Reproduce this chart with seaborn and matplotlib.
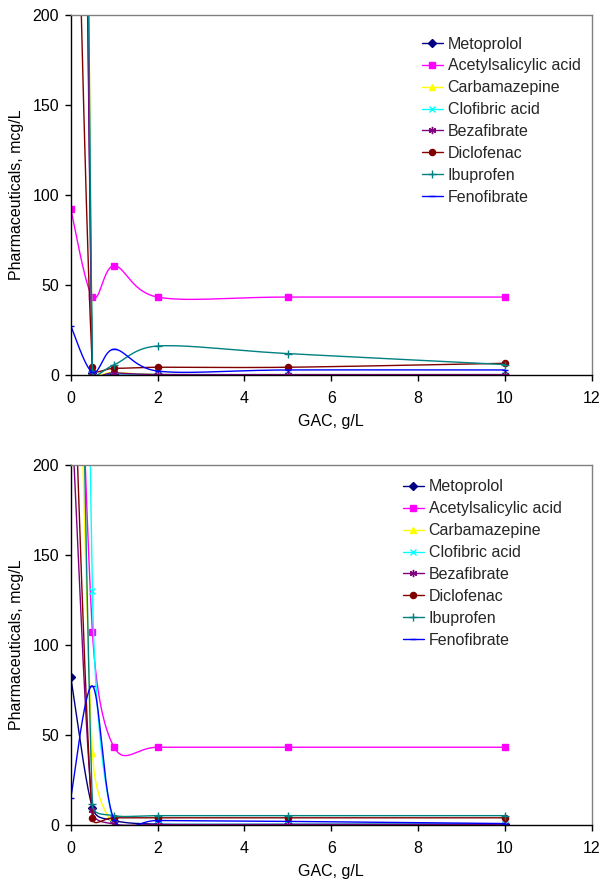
import numpy as np
import matplotlib
matplotlib.use("Agg")
import matplotlib.pyplot as plt
import seaborn as sns
from matplotlib.lines import Line2D

# GAC dose, g/L
gac = [0, 0.5, 1, 2, 5, 10]

names = ["Metoprolol", "Acetylsalicylic acid", "Carbamazepine", "Clofibric acid",
         "Bezafibrate", "Diclofenac", "Ibuprofen", "Fenofibrate"]

# Residual concentrations, mcg/L (upper panel)
top_metoprolol = [1400, 1.0, 0.8, 0.3, 0.2, 0.2]
top_asa = [92.4, 43.5, 60.7, 43.3, 43.3, 43.3]
top_carbamazepine = [1900, 2.5, 1.5, 0.3, 0.2, 0.2]
top_clofibric = [1600, 2.0, 1.0, 0.2, 0.2, 0.2]
top_bezafibrate = [1300, 1.5, 1.2, 0.2, 0.2, 0.2]
top_diclofenac = [445, 4.6, 3.7, 4.3, 4.3, 6.5]
top_ibuprofen = [1800, 2.0, 5.7, 16.1, 11.9, 5.8]
top_fenofibrate = [27.4, 1.5, 14.3, 2.2, 2.8, 2.8]

# Residual concentrations, mcg/L (lower panel)
bot_metoprolol = [82.4, 9.6, 2.5, 0.5, 0.5, 0.5]
bot_asa = [450, 107.4, 43.2, 43.2, 43.2, 43.2]
bot_carbamazepine = [471, 40.2, 0.3, 0.2, 0.2, 0.2]
bot_clofibric = [1270, 130, 0.3, 0.3, 0.3, 0.3]
bot_bezafibrate = [240, 8.3, 0.5, 0.2, 0.2, 0.2]
bot_diclofenac = [312, 4.0, 4.0, 4.0, 4.0, 4.0]
bot_ibuprofen = [679, 11.7, 5.2, 5.2, 5.2, 5.2]
bot_fenofibrate = [14.8, 77.2, 3.0, 2.5, 2.0, 0.8]

top_series = [top_metoprolol, top_asa, top_carbamazepine, top_clofibric,
              top_bezafibrate, top_diclofenac, top_ibuprofen, top_fenofibrate]
bot_series = [bot_metoprolol, bot_asa, bot_carbamazepine, bot_clofibric,
              bot_bezafibrate, bot_diclofenac, bot_ibuprofen, bot_fenofibrate]

colors = ["#000080", "#FF00FF", "#FFFF00", "#00FFFF",
          "#800080", "#800000", "#008080", "#0000FF"]
markers = ["D", "s", "^", "x", (6, 2, 0), "o", "+", "_"]
msizes = [4.0, 4.6, 4.8, 4.6, 5.2, 4.4, 5.6, 4.6]

sns.set_theme(style="white")
plt.rcParams["font.family"] = ["Liberation Sans", "DejaVu Sans"]
FS = 11.5


def smooth_curve(ax, xs, ys, n=60):
    """Bezier smoothing of a polyline in display space (spreadsheet-style)."""
    P = ax.transData.transform(np.column_stack([xs, ys]).astype(float))
    m = len(P)
    parts = []
    t = np.linspace(0, 1, n)[:, None]
    for i in range(m - 1):
        p0 = P[i - 1] if i > 0 else P[i]
        p1, p2 = P[i], P[i + 1]
        p3 = P[i + 2] if i + 2 < m else P[i + 1]
        d02 = np.hypot(*(p2 - p0))
        d12 = np.hypot(*(p2 - p1))
        d13 = np.hypot(*(p3 - p1))
        f1 = 1 / 6 if d02 / 6 < d12 / 2 else d12 / (2 * d02)
        f2 = 1 / 6 if d13 / 6 < d12 / 2 else d12 / (2 * d13)
        c1 = p1 + (p2 - p0) * f1
        c2 = p2 - (p3 - p1) * f2
        seg = ((1 - t) ** 3) * p1 + 3 * ((1 - t) ** 2) * t * c1 \
            + 3 * (1 - t) * (t ** 2) * c2 + (t ** 3) * p2
        parts.append(seg if i == 0 else seg[1:])
    curve = ax.transData.inverted().transform(np.vstack(parts))
    return curve[:, 0], curve[:, 1]


fig = plt.figure(figsize=(6.02, 8.81), dpi=100)
W, H = 602, 881
ax_left, ax_right = 70.7, 591.7


def make_axes(top_px, bottom_px):
    return fig.add_axes([ax_left / W, 1 - bottom_px / H,
                         (ax_right - ax_left) / W, (bottom_px - top_px) / H])


def draw_panel(ax, series, legend_xy):
    ax.set_xlim(0, 12)
    ax.set_ylim(0, 200)
    for vals, c, mk, ms in zip(series, colors, markers, msizes):
        cx, cy = smooth_curve(ax, gac, vals)
        sns.lineplot(x=cx, y=cy, ax=ax, color=c, lw=1.0, sort=False,
                     estimator=None, legend=False)
        ax.plot(gac, vals, linestyle="none", marker=mk, ms=ms, color=c,
                mec=c, mfc=c, mew=1.0)
    ax.set_xticks(np.arange(0, 13, 2))
    ax.set_yticks(np.arange(0, 201, 50))
    ax.tick_params(axis="both", which="major", direction="out", length=4.5,
                   width=1.0, color="black", labelsize=FS, pad=7,
                   bottom=True, left=True, labelcolor="black")
    ax.tick_params(axis="y", pad=4)
    ax.set_xlabel("GAC, g/L", fontsize=FS, color="black", labelpad=6)
    ax.set_ylabel("Pharmaceuticals, mcg/L", fontsize=FS, color="black", labelpad=6)
    for side in ["left", "bottom"]:
        ax.spines[side].set_color("black")
        ax.spines[side].set_linewidth(1.0)
    for side in ["top", "right"]:
        ax.spines[side].set_color("#808080")
        ax.spines[side].set_linewidth(1.0)
    ax.grid(False)
    handles = [Line2D([], [], color=c, marker=mk, ms=ms, mfc=c, mec=c, lw=1.0)
               for c, mk, ms in zip(colors, markers, msizes)]
    ax.legend(handles, names, loc="upper left",
              bbox_to_anchor=(legend_xy[0] / W, 1 - legend_xy[1] / H),
              bbox_transform=fig.transFigure, frameon=False, fontsize=FS,
              borderpad=0, borderaxespad=0, handlelength=1.3,
              handletextpad=0.3, labelspacing=0.43, numpoints=1)


ax1 = make_axes(15, 375)
draw_panel(ax1, top_series, (422, 36.5))
ax2 = make_axes(465, 825)
draw_panel(ax2, bot_series, (403, 479.5))

fig.savefig("out.png", dpi=100)
